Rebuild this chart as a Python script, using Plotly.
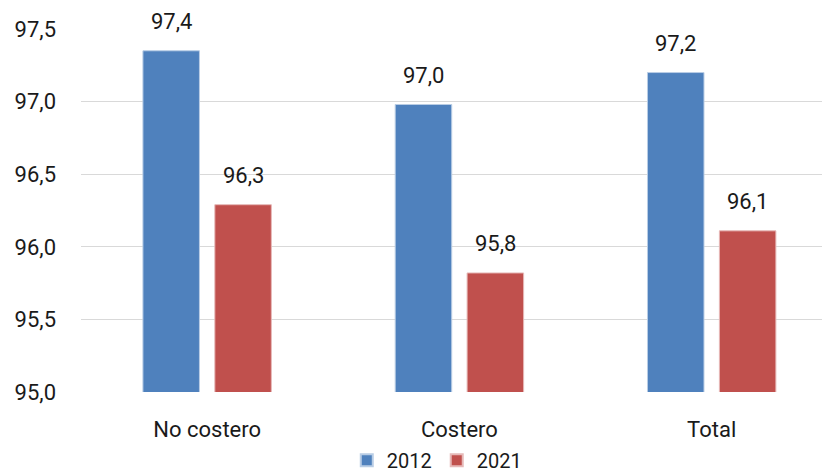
import plotly.graph_objects as go

categories = ["No costero", "Costero", "Total"]
series_names = ["2012", "2021"]
values_2012 = [97.35, 96.98, 97.20]
values_2021 = [96.29, 95.82, 96.11]
labels_2012 = ["97,4", "97,0", "97,2"]
labels_2021 = ["96,3", "95,8", "96,1"]
y_ticks = [95.0, 95.5, 96.0, 96.5, 97.0, 97.5]
y_tick_text = ["95,0", "95,5", "96,0", "96,5", "97,0", "97,5"]

FONT = "Roboto, sans-serif"
colors = ["#4F81BD", "#C0504D"]
edge = ["#B9CDE5", "#E6B9B8"]

fig = go.Figure()
for name, vals, c, e in zip(series_names, [values_2012, values_2021], colors, edge):
    fig.add_trace(go.Bar(
        x=categories, y=vals, name=name,
        marker=dict(color=c, line=dict(color=e, width=1)),
    ))

annotations = []
for vals, labs, shift in [(values_2012, labels_2012, -36), (values_2021, labels_2021, 36)]:
    for cat, v, t in zip(categories, vals, labs):
        annotations.append(dict(
            x=cat, y=v, text=t, showarrow=False, xshift=shift, yshift=15,
            yanchor="bottom", xanchor="center",
            font=dict(family=FONT, size=22, color="#1a1a1a"),
        ))

# page body has an 8px margin, so the figure is 8px smaller on each axis
fig.update_layout(
    width=822, height=466,
    margin=dict(l=73, r=0, t=21, b=82, autoexpand=False),
    paper_bgcolor="white", plot_bgcolor="white",
    barmode="group", bargap=0.43, bargroupgap=0.214,
    font=dict(family=FONT, size=22, color="#1a1a1a"),
    annotations=annotations,
    showlegend=True,
    legend=dict(orientation="h", x=0.475, xanchor="center", y=-0.188, yanchor="middle",
                font=dict(family=FONT, size=20, color="#1a1a1a"),
                itemwidth=30, tracegroupgap=0, itemsizing="constant"),
    xaxis=dict(range=[-0.5, 2.469], showline=False, ticks="", showgrid=False,
               ticklabelstandoff=22, tickfont=dict(family=FONT, size=22, color="#1a1a1a")),
    yaxis=dict(range=[95, 97.5], tickvals=y_ticks, ticktext=y_tick_text,
               showgrid=True, gridcolor="#D9D9D9", gridwidth=1,
               zeroline=False, showline=False, ticks="",
               ticklabelstandoff=24, tickfont=dict(family=FONT, size=22, color="#1a1a1a")),
)

fig.write_html("out.html")
